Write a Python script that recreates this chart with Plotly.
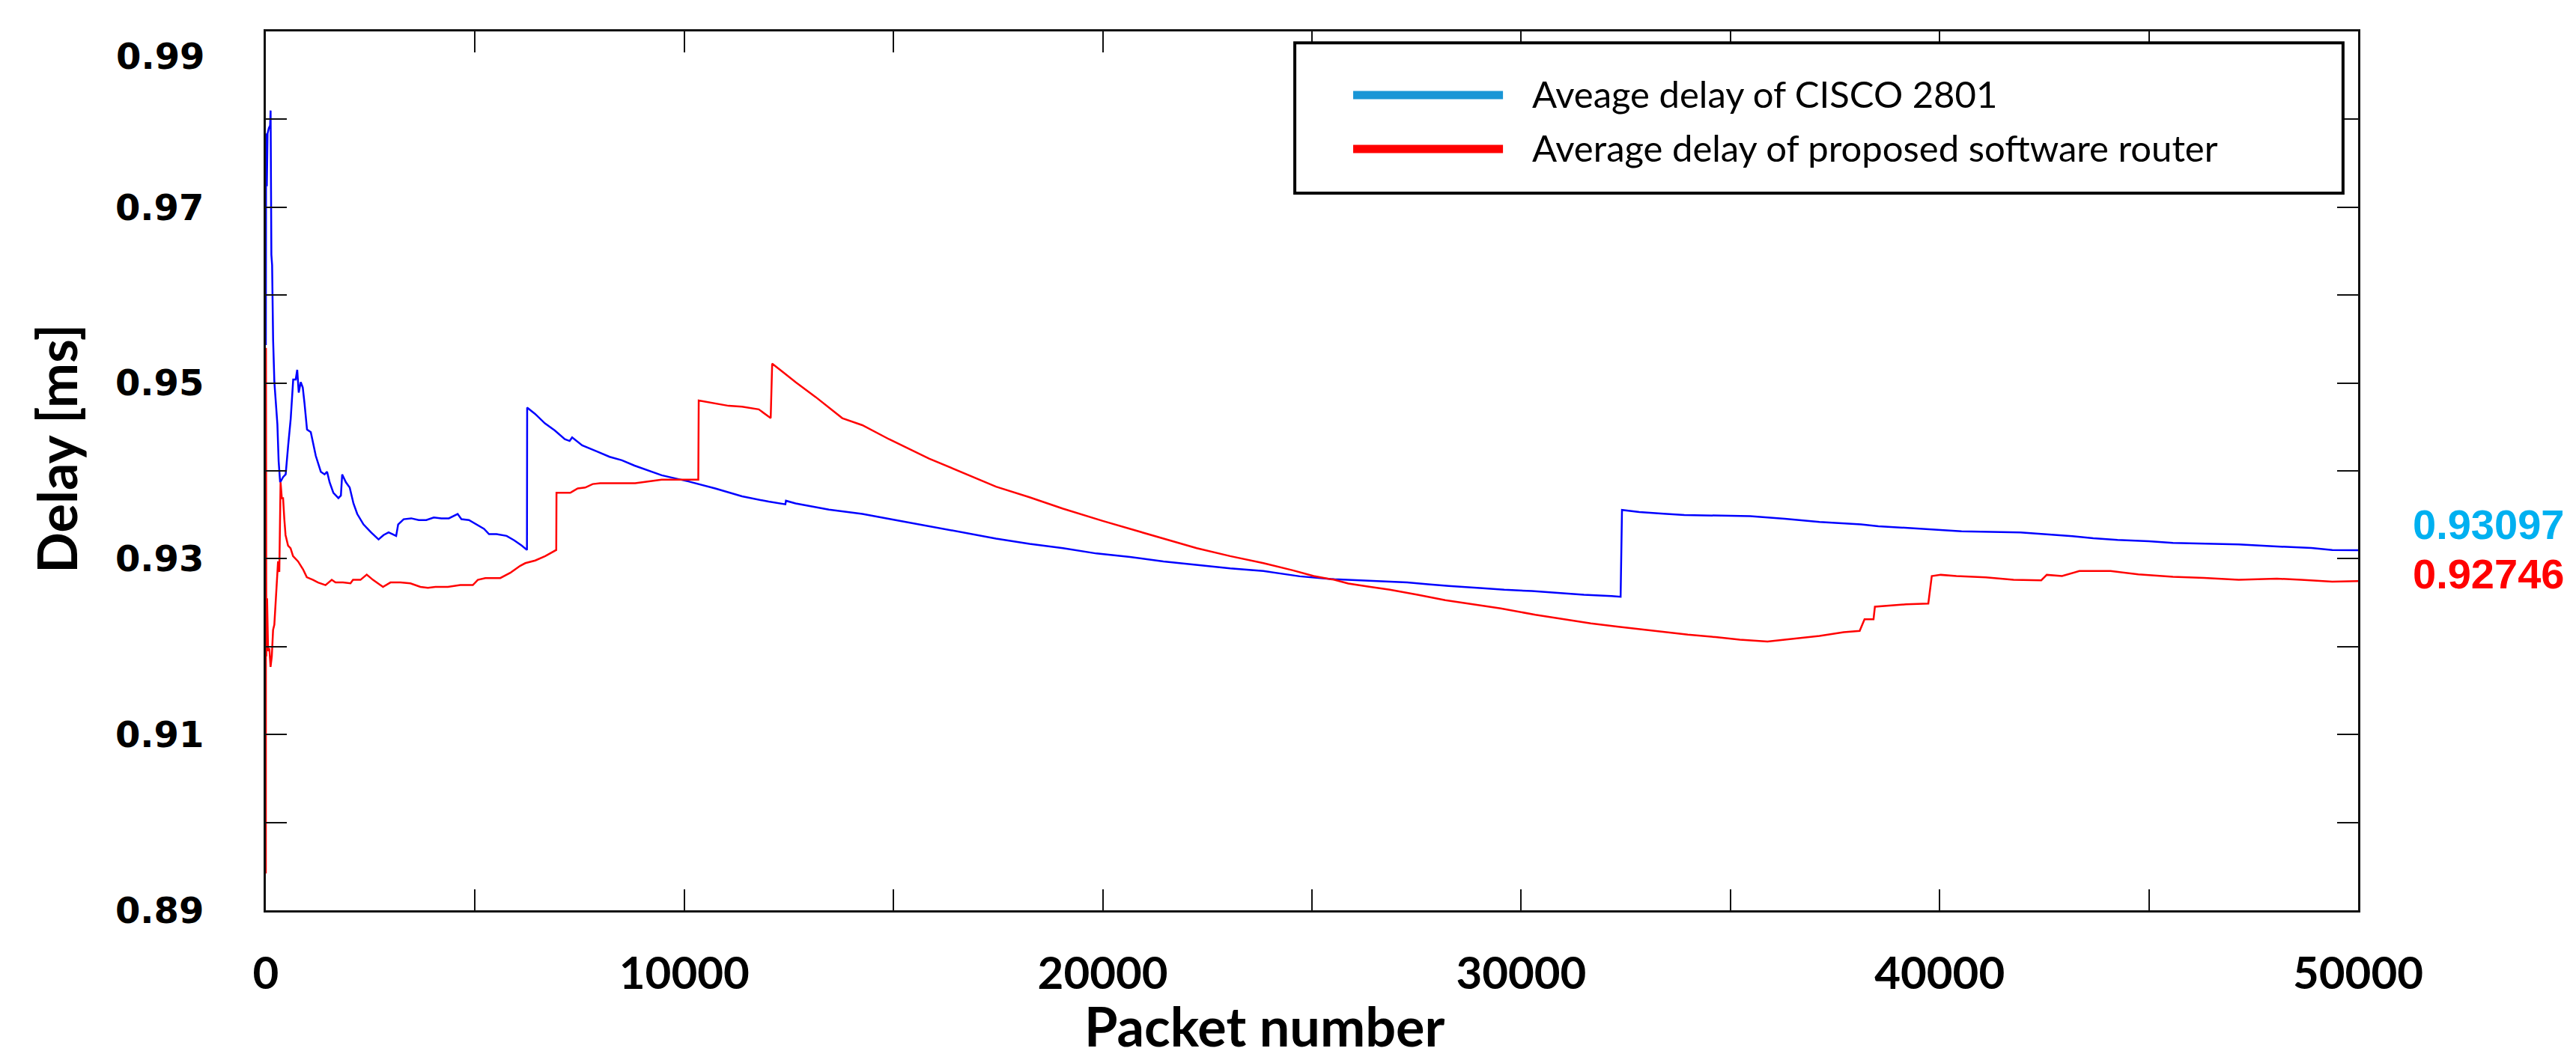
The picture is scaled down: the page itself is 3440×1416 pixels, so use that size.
import plotly.graph_objects as go

# ---------------- data ----------------
cisco_x = [0, 6, 24, 42, 72, 102, 114, 132, 150, 174, 204, 252, 276, 306, 342, 414, 474, 534, 594,
           654, 714, 750, 786, 834, 882, 924, 984, 1074, 1134, 1194, 1314, 1404, 1464, 1524, 1614,
           1734, 1794, 1824, 1914, 2004, 2094, 2184, 2334, 2514, 2694, 2814, 2934, 3054, 3114, 3162,
           3294, 3474, 3654, 3834, 4014, 4194, 4374, 4584, 4674, 4854, 5034, 5214, 5334, 5514, 5754,
           5934, 6114, 6240, 6245, 6430, 6670, 6905, 7145, 7260, 7320, 7560, 7915, 8215, 8510, 8811,
           9460, 10100, 10740, 11380, 12015, 12415, 12430, 12660, 13455, 14255, 15050, 15850, 16650,
           17450, 18250, 19050, 19850, 20650, 21450, 22245, 23045, 23840, 24709, 25537, 26696, 27275,
           27772, 28269, 29014, 29594, 30256, 30836, 31498, 32160, 32376, 32409, 32823, 33403, 33900,
           35473, 36301, 37129, 38122, 38536, 39033, 39696, 40524, 41931, 42594, 43173, 43670, 44250,
           44995, 45574, 47147, 47893, 48886, 49383, 50000]
cisco_y = [0.9543, 0.9784, 0.9724, 0.9784, 0.9790, 0.9793, 0.9810, 0.9646, 0.9634, 0.9549, 0.9501,
           0.9471, 0.9453, 0.9411, 0.9387, 0.9393, 0.9396, 0.9429, 0.9459, 0.9504, 0.9504, 0.9515,
           0.9489, 0.9501, 0.9495, 0.9477, 0.9447, 0.9444, 0.9429, 0.9417, 0.9399, 0.9396, 0.9399,
           0.9387, 0.9375, 0.9369, 0.9372, 0.9396, 0.9387, 0.9381, 0.9363, 0.9351, 0.9339, 0.9330,
           0.9322, 0.9327, 0.9330, 0.9327, 0.9326, 0.9339, 0.9345, 0.9346, 0.9344, 0.9344, 0.9347,
           0.9346, 0.9346, 0.9351, 0.9345, 0.9344, 0.9339, 0.9334, 0.9328, 0.9328, 0.9326, 0.9321,
           0.9315, 0.9310, 0.9472, 0.9465, 0.9454, 0.9446, 0.9436, 0.9434, 0.9438, 0.9429, 0.9422,
           0.9416, 0.9412, 0.9406, 0.9395, 0.9388, 0.9380, 0.9371, 0.9365, 0.9362, 0.9366, 0.9363,
           0.9356, 0.9351, 0.9344, 0.9337, 0.9330, 0.9323, 0.9317, 0.9312, 0.9306, 0.9302, 0.9297,
           0.9293, 0.9289, 0.9286, 0.9280, 0.92766, 0.92746, 0.9273, 0.9271, 0.9269, 0.92667,
           0.92647, 0.92633, 0.9261, 0.9259, 0.92576, 0.92567, 0.93555, 0.93532, 0.93512, 0.93498,
           0.93484, 0.93455, 0.93418, 0.9339, 0.9337, 0.93356, 0.93336, 0.93313, 0.93299, 0.93277,
           0.93257, 0.93234, 0.93214, 0.9320, 0.9318, 0.93163, 0.93143, 0.93123, 0.9310, 0.93097]

router_x = [0, 3, 6, 12, 30, 54, 84, 113, 143, 173, 203, 233, 263, 292, 322, 352, 382, 412, 442,
            471, 531, 591, 650, 770, 889, 979, 1128, 1247, 1426, 1575, 1665, 1844, 2023, 2083, 2262,
            2411, 2560, 2799, 2978, 3216, 3455, 3694, 3873, 4052, 4350, 4648, 4947, 5066, 5245, 5603,
            5842, 6080, 6200, 6438, 6677, 6940, 6946, 7274, 7453, 7632, 7811, 7990, 8229, 8826, 9460,
            10100, 10335, 10345, 10740, 11060, 11380, 11780, 12065, 12100, 12340, 12660, 13140, 13775,
            14255, 14895, 15850, 16650, 17450, 18250, 19050, 20000, 20650, 21450, 22245, 23045, 23840,
            24543, 25040, 25537, 25868, 26365, 26862, 27524, 28186, 28849, 29511, 30339, 31002, 31664,
            32326, 33154, 33982, 34644, 35224, 35886, 36466, 37129, 37708, 38089, 38205, 38420, 38453,
            39199, 39729, 39812, 40027, 40400, 41103, 41766, 42428, 42560, 42925, 43339, 44084, 44747,
            45574, 46319, 47147, 48058, 48638, 49383, 50000]
router_y = [0.8942, 0.9540, 0.9188, 0.9189, 0.9255, 0.9195, 0.9198, 0.9177, 0.9189, 0.9219, 0.9225,
            0.9249, 0.9267, 0.9297, 0.9285, 0.9387, 0.9369, 0.9369, 0.9345, 0.9327, 0.9315, 0.9312,
            0.9303, 0.9297, 0.9288, 0.9279, 0.9276, 0.9273, 0.9270, 0.9276, 0.9273, 0.9273, 0.9272,
            0.9276, 0.9276, 0.9282, 0.9276, 0.9268, 0.9273, 0.9273, 0.9272, 0.9268, 0.9267, 0.9268,
            0.9268, 0.9270, 0.9270, 0.9276, 0.9278, 0.9278, 0.9284, 0.9292, 0.9295, 0.9298, 0.9303,
            0.9310, 0.9375, 0.9375, 0.9380, 0.9381, 0.9385, 0.9386, 0.9386, 0.9386, 0.9390, 0.9390,
            0.9390, 0.9480, 0.9477, 0.9474, 0.9473, 0.9470, 0.9460, 0.9522, 0.9513, 0.9501, 0.9484,
            0.9460, 0.9452, 0.9436, 0.9414, 0.9398, 0.9382, 0.9370, 0.9357, 0.9343, 0.9334, 0.9323,
            0.9312, 0.9303, 0.9295, 0.92868, 0.92803, 0.9276, 0.92718, 0.92681, 0.92647, 0.9259,
            0.92528, 0.92482, 0.92434, 0.92363, 0.92312, 0.92264, 0.92227, 0.92179, 0.92136, 0.92108,
            0.9208, 0.92057, 0.92085, 0.92122, 0.92165, 0.92179, 0.92312, 0.92312, 0.92454, 0.92482,
            0.9249, 0.92803, 0.92817, 0.92803, 0.92789, 0.9276, 0.92755, 0.92817, 0.92803, 0.9286,
            0.9286, 0.92823, 0.92794, 0.92783, 0.9276, 0.92774, 0.9276, 0.9274, 0.92746]

x_tick_vals = [0, 5000, 10000, 15000, 20000, 25000, 30000, 35000, 40000, 45000, 50000]
x_tick_text = ["0", "", "10000", "", "20000", "", "30000", "", "40000", "", "50000"]
y_tick_vals = [0.89, 0.90, 0.91, 0.92, 0.93, 0.94, 0.95, 0.96, 0.97, 0.98, 0.99]
y_tick_text = ["0.89", "", "0.91", "", "0.93", "", "0.95", "", "0.97", "", ""]

legend_names = ["Aveage delay of CISCO 2801", "Average delay of proposed software router"]
final_values = ["0.93097", "0.92746"]

# ---------------- figure ----------------
fig = go.Figure()
fig.add_trace(go.Scatter(x=cisco_x, y=cisco_y, mode="lines", name=legend_names[0],
                         line=dict(color="#0000ff", width=2.5), showlegend=False))
fig.add_trace(go.Scatter(x=router_x, y=router_y, mode="lines", name=legend_names[1],
                         line=dict(color="#ff0000", width=2.5), showlegend=False))

axis_common = dict(showline=True, linecolor="#111111", linewidth=3, mirror="ticks",
                   ticks="inside", ticklen=28, tickwidth=2, tickcolor="#111111",
                   showgrid=False, zeroline=False, automargin=False)

fig.update_xaxes(range=[0, 50000], tickvals=x_tick_vals, ticktext=x_tick_text,
                 tickfont=dict(family="Lato", size=60, color="black", weight="bold"),
                 ticklabelstandoff=30, **axis_common)
fig.update_yaxes(range=[0.89, 0.99], tickvals=y_tick_vals, ticktext=y_tick_text,
                 tickfont=dict(family="DejaVu Sans", size=48, color="black", weight="bold"),
                 ticklabelstandoff=70, **axis_common)

annotations = [
    dict(text="0.99", x=-0.0286, xref="paper", y=0.9872, yref="y", xanchor="right", yanchor="middle",
         showarrow=False, font=dict(family="DejaVu Sans", size=48, color="black", weight="bold")),
    dict(text="Delay [ms]", x=-0.1002, xref="paper", y=0.525, yref="paper", textangle=-90,
         xanchor="center", yanchor="middle", showarrow=False,
         font=dict(family="Lato", size=72, color="black", weight="bold")),
    dict(text="Packet number", x=0.4775, xref="paper", y=-0.131, yref="paper",
         xanchor="center", yanchor="middle", showarrow=False,
         font=dict(family="Lato", size=72, color="black", weight="bold")),
    dict(text=legend_names[0], x=0.6045, xref="paper", y=0.929, yref="paper",
         xanchor="left", yanchor="middle", showarrow=False,
         font=dict(family="Lato", size=49, color="black")),
    dict(text=legend_names[1], x=0.6045, xref="paper", y=0.868, yref="paper",
         xanchor="left", yanchor="middle", showarrow=False,
         font=dict(family="Lato", size=49, color="black")),
    dict(text=final_values[0], x=1.0254, xref="paper", y=0.9339, yref="y",
         xanchor="left", yanchor="middle", showarrow=False,
         font=dict(family="Liberation Sans", size=56, color="#00b0f0", weight="bold")),
    dict(text=final_values[1], x=1.0254, xref="paper", y=0.9283, yref="y",
         xanchor="left", yanchor="middle", showarrow=False,
         font=dict(family="Liberation Sans", size=56, color="#ff0000", weight="bold")),
]

shapes = [
    dict(type="rect", xref="paper", yref="paper", x0=0.4918, x1=0.9928, y0=0.816, y1=0.987,
         line=dict(color="black", width=4), fillcolor="white", layer="above"),
    dict(type="line", xref="paper", yref="paper", x0=0.5197, x1=0.5913, y0=0.9276, y1=0.9276,
         line=dict(color="#1a96d6", width=11), layer="above"),
    dict(type="line", xref="paper", yref="paper", x0=0.5197, x1=0.5913, y0=0.8663, y1=0.8663,
         line=dict(color="#ff0000", width=11), layer="above"),
]

fig.update_layout(width=3440, height=1416, margin=dict(l=347, r=299, t=34, b=208),
                  paper_bgcolor="white", plot_bgcolor="white",
                  annotations=annotations, shapes=shapes, showlegend=False)

fig.write_html("out.html")
